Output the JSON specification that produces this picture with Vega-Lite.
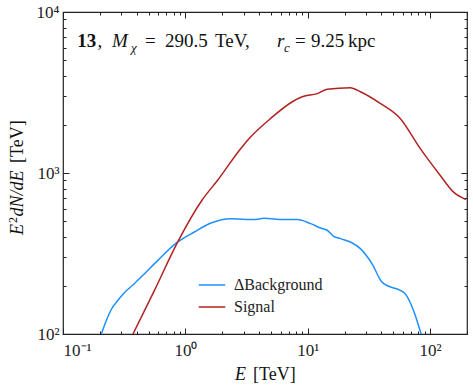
{
  "$schema": "https://vega.github.io/schema/vega-lite/v6.json",
  "width": 404,
  "height": 322,
  "autosize": {"type": "none"},
  "padding": {"left": 63, "top": 12, "right": 6, "bottom": 55},
  "config": {
    "font": "Liberation Serif",
    "view": {"stroke": "#222", "strokeWidth": 1.2},
    "axis": {"domain": false, "grid": false, "tickColor": "#222", "tickWidth": 1, "labelColor": "#222", "titleColor": "#222", "labelFont": "Liberation Serif", "titleFont": "Liberation Serif", "labelFontSize": 17, "titleFontSize": 20, "titleFontWeight": "normal"},
    "legend": {"labelFont": "Liberation Serif"},
    "text": {"color": "#111", "baseline": "alphabetic", "align": "left", "fontSize": 19, "font": "Liberation Serif"}
  },
  "datasets": {
    "spectra": [
      {"series": "ΔBackground", "E": 0.2058, "flux": 100},
      {"series": "ΔBackground", "E": 0.2259, "flux": 121.4},
      {"series": "ΔBackground", "E": 0.2481, "flux": 142},
      {"series": "ΔBackground", "E": 0.2813, "flux": 162},
      {"series": "ΔBackground", "E": 0.3184, "flux": 181},
      {"series": "ΔBackground", "E": 0.3842, "flux": 206},
      {"series": "ΔBackground", "E": 0.4634, "flux": 237},
      {"series": "ΔBackground", "E": 0.5955, "flux": 286.7},
      {"series": "ΔBackground", "E": 0.866, "flux": 373},
      {"series": "ΔBackground", "E": 1.183, "flux": 430},
      {"series": "ΔBackground", "E": 1.618, "flux": 489},
      {"series": "ΔBackground", "E": 2.353, "flux": 520},
      {"series": "ΔBackground", "E": 3.64, "flux": 514},
      {"series": "ΔBackground", "E": 4.39, "flux": 523},
      {"series": "ΔBackground", "E": 6.39, "flux": 514},
      {"series": "ΔBackground", "E": 8.21, "flux": 514},
      {"series": "ΔBackground", "E": 10.54, "flux": 485},
      {"series": "ΔBackground", "E": 12.72, "flux": 455},
      {"series": "ΔBackground", "E": 14.41, "flux": 441},
      {"series": "ΔBackground", "E": 16.31, "flux": 404},
      {"series": "ΔBackground", "E": 18.49, "flux": 391},
      {"series": "ΔBackground", "E": 22.3, "flux": 373},
      {"series": "ΔBackground", "E": 26.9, "flux": 339},
      {"series": "ΔBackground", "E": 33.5, "flux": 273},
      {"series": "ΔBackground", "E": 40.4, "flux": 210},
      {"series": "ΔBackground", "E": 62.5, "flux": 178},
      {"series": "ΔBackground", "E": 73.1, "flux": 140},
      {"series": "ΔBackground", "E": 84.4, "flux": 100},
      {"series": "Signal", "E": 0.373, "flux": 100},
      {"series": "Signal", "E": 0.559, "flux": 186.6},
      {"series": "Signal", "E": 0.866, "flux": 373},
      {"series": "Signal", "E": 1.366, "flux": 677},
      {"series": "Signal", "E": 1.834, "flux": 902},
      {"series": "Signal", "E": 2.838, "flux": 1421},
      {"series": "Signal", "E": 3.42, "flux": 1677},
      {"series": "Signal", "E": 4.98, "flux": 2183},
      {"series": "Signal", "E": 7.48, "flux": 2770},
      {"series": "Signal", "E": 9.02, "flux": 2975},
      {"series": "Signal", "E": 11.95, "flux": 3110},
      {"series": "Signal", "E": 14.41, "flux": 3310},
      {"series": "Signal", "E": 22.3, "flux": 3385},
      {"series": "Signal", "E": 26.9, "flux": 3196},
      {"series": "Signal", "E": 39.1, "flux": 2706},
      {"series": "Signal", "E": 56.9, "flux": 2183},
      {"series": "Signal", "E": 82.8, "flux": 1421},
      {"series": "Signal", "E": 120.5, "flux": 969},
      {"series": "Signal", "E": 154.6, "flux": 763},
      {"series": "Signal", "E": 196.2, "flux": 684}
    ],
    "one": [{}]
  },
  "layer": [
    {
      "data": {"name": "spectra"},
      "mark": {"type": "line", "strokeWidth": 1.5, "clip": true, "interpolate": "monotone"},
      "encoding": {
        "x": {"field": "E", "type": "quantitative", "scale": {"type": "log", "domain": [0.1, 200], "nice": false},
          "axis": {"orient": "bottom", "values": [0.1, 1, 10, 100], "tickSize": -6, "labelPadding": 14, "labelExpr": "datum.value < 0.5 ? '10⁻¹' : datum.value < 5 ? '10⁰' : datum.value < 50 ? '10¹' : '10²'", "title": null}},
        "y": {"field": "flux", "type": "quantitative", "scale": {"type": "log", "domain": [100, 10000], "nice": false},
          "axis": {"orient": "left", "values": [100, 1000, 10000], "tickSize": -6, "labelPadding": 10, "labelExpr": "datum.value < 500 ? '10²' : datum.value < 5000 ? '10³' : '10⁴'", "title": null}},
        "color": {"field": "series", "type": "nominal", "scale": {"domain": ["ΔBackground", "Signal"], "range": ["#1e90ff", "#b22222"]},
          "legend": {"title": null, "orient": "none", "legendX": 135, "legendY": 259, "symbolType": "stroke", "symbolSize": 700, "symbolStrokeWidth": 1.5, "labelFontSize": 16, "labelFont": "Liberation Serif", "labelColor": "#222", "labelOffset": 8, "rowPadding": 0}}
      }
    },
    {
      "data": {"name": "spectra"},
      "mark": {"type": "point", "opacity": 0},
      "encoding": {
        "x": {"field": "E", "type": "quantitative", "axis": {"orient": "bottom", "values": [0.2, 0.3, 0.4, 0.5, 0.6, 0.7, 0.8, 0.9, 2, 3, 4, 5, 6, 7, 8, 9, 20, 30, 40, 50, 60, 70, 80, 90, 200], "tickSize": -3, "labels": false, "title": null}},
        "y": {"field": "flux", "type": "quantitative", "axis": {"orient": "left", "values": [200, 300, 400, 500, 600, 700, 800, 900, 2000, 3000, 4000, 5000, 6000, 7000, 8000, 9000], "tickSize": -3, "labels": false, "title": null}}
      }
    },
    {
      "data": {"name": "spectra"},
      "mark": {"type": "point", "opacity": 0},
      "encoding": {
        "x": {"field": "E", "type": "quantitative", "axis": {"orient": "top", "values": [0.1, 1, 10, 100], "tickSize": -6, "labels": false, "title": null}},
        "y": {"field": "flux", "type": "quantitative", "axis": {"orient": "right", "values": [100, 1000, 10000], "tickSize": -6, "labels": false, "title": null}}
      }
    },
    {
      "data": {"name": "spectra"},
      "mark": {"type": "point", "opacity": 0},
      "encoding": {
        "x": {"field": "E", "type": "quantitative", "axis": {"orient": "top", "values": [0.2, 0.3, 0.4, 0.5, 0.6, 0.7, 0.8, 0.9, 2, 3, 4, 5, 6, 7, 8, 9, 20, 30, 40, 50, 60, 70, 80, 90, 200], "tickSize": -3, "labels": false, "title": null}},
        "y": {"field": "flux", "type": "quantitative", "axis": {"orient": "right", "values": [200, 300, 400, 500, 600, 700, 800, 900, 2000, 3000, 4000, 5000, 6000, 7000, 8000, 9000], "tickSize": -3, "labels": false, "title": null}}
      }
    },
    {"data": {"name": "one"}, "mark": {"type": "text", "text": "13", "fontWeight": "bold"},
      "encoding": {"x": {"datum": 0.1309, "type": "quantitative", "axis": null}, "y": {"datum": 6063, "type": "quantitative", "axis": null}}},
    {"data": {"name": "one"}, "mark": {"type": "text", "text": ","},
      "encoding": {"x": {"datum": 0.1913, "type": "quantitative", "axis": null}, "y": {"datum": 6063, "type": "quantitative", "axis": null}}},
    {"data": {"name": "one"}, "mark": {"type": "text", "text": "M", "fontStyle": "italic"},
      "encoding": {"x": {"datum": 0.2514, "type": "quantitative", "axis": null}, "y": {"datum": 6063, "type": "quantitative", "axis": null}}},
    {"data": {"name": "one"}, "mark": {"type": "text", "text": "χ", "fontStyle": "italic", "fontSize": 13},
      "encoding": {"x": {"datum": 0.3594, "type": "quantitative", "axis": null}, "y": {"datum": 5644, "type": "quantitative", "axis": null}}},
    {"data": {"name": "one"}, "mark": {"type": "text", "text": "="},
      "encoding": {"x": {"datum": 0.4677, "type": "quantitative", "axis": null}, "y": {"datum": 6063, "type": "quantitative", "axis": null}}},
    {"data": {"name": "one"}, "mark": {"type": "text", "text": "290.5"},
      "encoding": {"x": {"datum": 0.6816, "type": "quantitative", "axis": null}, "y": {"datum": 6063, "type": "quantitative", "axis": null}}},
    {"data": {"name": "one"}, "mark": {"type": "text", "text": "TeV,"},
      "encoding": {"x": {"datum": 1.746, "type": "quantitative", "axis": null}, "y": {"datum": 6063, "type": "quantitative", "axis": null}}},
    {"data": {"name": "one"}, "mark": {"type": "text", "text": "r", "fontStyle": "italic"},
      "encoding": {"x": {"datum": 5.604, "type": "quantitative", "axis": null}, "y": {"datum": 6063, "type": "quantitative", "axis": null}}},
    {"data": {"name": "one"}, "mark": {"type": "text", "text": "c", "fontStyle": "italic", "fontSize": 13},
      "encoding": {"x": {"datum": 6.393, "type": "quantitative", "axis": null}, "y": {"datum": 5644, "type": "quantitative", "axis": null}}},
    {"data": {"name": "one"}, "mark": {"type": "text", "text": "="},
      "encoding": {"x": {"datum": 7.866, "type": "quantitative", "axis": null}, "y": {"datum": 6063, "type": "quantitative", "axis": null}}},
    {"data": {"name": "one"}, "mark": {"type": "text", "text": "9.25"},
      "encoding": {"x": {"datum": 10.62, "type": "quantitative", "axis": null}, "y": {"datum": 6063, "type": "quantitative", "axis": null}}},
    {"data": {"name": "one"}, "mark": {"type": "text", "text": "kpc"},
      "encoding": {"x": {"datum": 21.31, "type": "quantitative", "axis": null}, "y": {"datum": 6063, "type": "quantitative", "axis": null}}},
    {"data": {"name": "one"}, "mark": {"type": "text", "text": "E", "fontStyle": "italic", "fontSize": 18},
      "encoding": {"x": {"datum": 2.543, "type": "quantitative", "axis": null}, "y": {"datum": 51.8, "type": "quantitative", "axis": null}}},
    {"data": {"name": "one"}, "mark": {"type": "text", "text": "[TeV]", "fontSize": 18},
      "encoding": {"x": {"datum": 3.568, "type": "quantitative", "axis": null}, "y": {"datum": 51.8, "type": "quantitative", "axis": null}}},
    {"data": {"name": "one"}, "mark": {"type": "text", "text": "E", "fontStyle": "italic", "fontSize": 18, "angle": 270},
      "encoding": {"x": {"datum": 0.04711, "type": "quantitative", "axis": null}, "y": {"datum": 412, "type": "quantitative", "axis": null}}},
    {"data": {"name": "one"}, "mark": {"type": "text", "text": "2", "fontSize": 12, "angle": 270},
      "encoding": {"x": {"datum": 0.04247, "type": "quantitative", "axis": null}, "y": {"datum": 489.2, "type": "quantitative", "axis": null}}},
    {"data": {"name": "one"}, "mark": {"type": "text", "text": "dN/dE", "fontStyle": "italic", "fontSize": 18, "angle": 270},
      "encoding": {"x": {"datum": 0.04711, "type": "quantitative", "axis": null}, "y": {"datum": 536.8, "type": "quantitative", "axis": null}}},
    {"data": {"name": "one"}, "mark": {"type": "text", "text": "[TeV]", "fontSize": 18, "angle": 270},
      "encoding": {"x": {"datum": 0.04711, "type": "quantitative", "axis": null}, "y": {"datum": 1154, "type": "quantitative", "axis": null}}}
  ],
  "resolve": {"axis": {"x": "independent", "y": "independent"}}
}
